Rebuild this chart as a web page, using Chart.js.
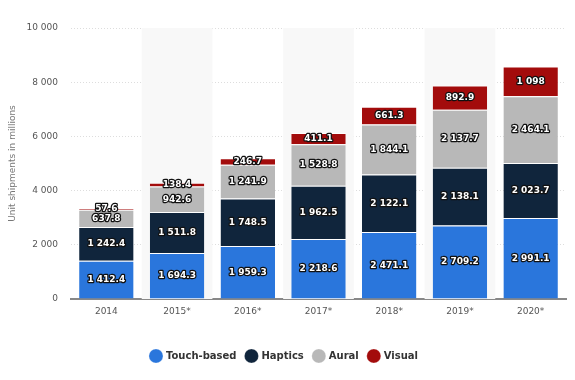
<!DOCTYPE html>
<html>
<head>
<meta charset="utf-8">
<script src="https://cdn.jsdelivr.net/npm/chart.js@4"></script>
<style>
  html, body { margin: 0; padding: 0; background: #fff; }
  #wrap { width: 575px; height: 380px; }
</style>
</head>
<body>
<div id="wrap"><canvas id="chart" width="575" height="380"></canvas></div>
<script>
// Categories and series
const years = ['2014', '2015*', '2016*', '2017*', '2018*', '2019*', '2020*'];
const touchBased = [1412.4, 1694.3, 1959.3, 2218.6, 2471.1, 2709.2, 2991.1];
const haptics = [1242.4, 1511.8, 1748.5, 1962.5, 2122.1, 2138.1, 2023.7];
const aural = [637.8, 942.6, 1241.9, 1528.8, 1844.1, 2137.7, 2464.1];
const visual = [57.6, 138.4, 246.7, 411.1, 661.3, 892.9, 1098];

const FONT = '"DejaVu Sans", Verdana, sans-serif';

// Format numbers with a space as thousands separator
function fmt(v) {
    const s = Number.isInteger(v) ? String(v) : v.toFixed(1);
    const parts = s.split('.');
    parts[0] = parts[0].replace(/\B(?=(\d{3})+(?!\d))/g, ' ');
    return parts.join('.');
}

// Light grey bands behind every other category
const bandPlugin = {
    id: 'bands',
    beforeDatasetsDraw(chart) {
        const { ctx, chartArea, scales } = chart;
        const x = scales.x;
        const w = (chartArea.right - chartArea.left) / years.length;
        ctx.save();
        ctx.fillStyle = '#f8f8f8';
        years.forEach((_, i) => {
            if (i % 2 === 1) {
                const cx = x.getPixelForValue(i);
                ctx.fillRect(cx - w / 2, chartArea.top, w, chartArea.bottom - chartArea.top);
            }
        });
        ctx.restore();
    }
};

// White labels with dark outline in the middle of each segment
const labelPlugin = {
    id: 'segLabels',
    afterDatasetsDraw(chart) {
        const { ctx } = chart;
        ctx.save();
        ctx.font = 'bold 9px ' + FONT;
        ctx.textAlign = 'center';
        ctx.textBaseline = 'middle';
        ctx.lineJoin = 'round';
        chart.data.datasets.forEach((ds, di) => {
            const meta = chart.getDatasetMeta(di);
            meta.data.forEach((bar, i) => {
                const p = bar.getProps(['x', 'y', 'base'], true);
                const y = (p.y + p.base) / 2;
                const txt = fmt(ds.data[i]);
                ctx.strokeStyle = '#111';
                ctx.lineWidth = 2.5;
                ctx.strokeText(txt, p.x, y);
                ctx.fillStyle = '#fff';
                ctx.fillText(txt, p.x, y);
            });
        });
        ctx.restore();
    }
};

function series(label, data, color) {
    return {
        label: label,
        data: data,
        backgroundColor: color,
        borderColor: '#ffffff',
        borderWidth: { top: 1, left: 0, right: 0, bottom: 0 },
        borderSkipped: false,
        categoryPercentage: 0.77,
        barPercentage: 1
    };
}

new Chart(document.getElementById('chart'), {
    type: 'bar',
    data: {
        labels: years,
        datasets: [
            series('Touch-based', touchBased, '#2a76dc'),
            series('Haptics', haptics, '#10253c'),
            series('Aural', aural, '#b8b8b8'),
            series('Visual', visual, '#a30c0c')
        ]
    },
    options: {
        responsive: false,
        animation: false,
        layout: { padding: { top: 28, right: 9, bottom: 9, left: 3 } },
        plugins: {
            legend: {
                position: 'bottom',
                labels: {
                    usePointStyle: true,
                    pointStyle: 'circle',
                    boxWidth: 10,
                    boxHeight: 10,
                    padding: 10,
                    color: '#333',
                    font: { family: FONT, size: 10, weight: 'bold' }
                }
            },
            tooltip: { enabled: false }
        },
        scales: {
            x: {
                stacked: true,
                grid: { display: false, drawTicks: false },
                border: { display: true, color: '#888', width: 2 },
                ticks: { color: '#555', padding: 7, font: { family: FONT, size: 9 } },
                afterFit(scale) { scale.height = 42; }
            },
            y: {
                stacked: true,
                min: 0,
                max: 10000,
                grid: { color: '#dddddd', drawTicks: false },
                border: { display: false, dash: [1, 2] },
                ticks: {
                    stepSize: 2000,
                    padding: 13,
                    color: '#555',
                    font: { family: FONT, size: 9 },
                    callback: v => fmt(v)
                },
                title: {
                    display: true,
                    text: 'Unit shipments in millions',
                    color: '#777',
                    font: { family: FONT, size: 9 }
                },
                afterFit(scale) { scale.width = 68; }
            }
        }
    },
    plugins: [bandPlugin, labelPlugin]
});
</script>
</body>
</html>
